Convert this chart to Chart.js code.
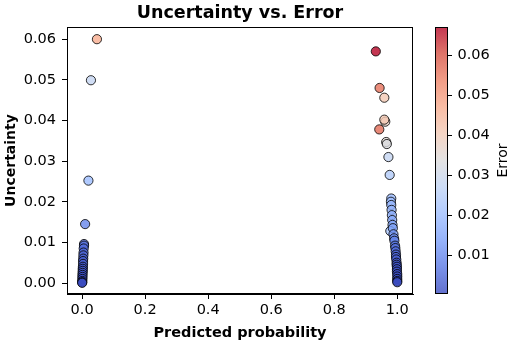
<!DOCTYPE html>
<html>
<head>
<meta charset="utf-8">
<script src="https://cdn.jsdelivr.net/npm/chart.js@4/dist/chart.umd.min.js"></script>
<style>
  html, body { margin: 0; padding: 0; background: #fff; }
  #wrap { width: 511px; height: 346px; }
</style>
</head>
<body>
<div id="wrap"><canvas id="chart"></canvas></div>
<script>
// values
const probs = [
    0.047, 0.028, 0.020, 0.0095, 0.006, 0.006, 0.005, 0.0045, 0.004, 0.0035, 0.003,
    0.003, 0.0025, 0.002, 0.002, 0.0015, 0.0012, 0.001, 0.0008, 0.0005, 0.0003, 0.0001,
    0.932, 0.944, 0.959, 0.962, 0.959, 0.943, 0.965, 0.967, 0.972, 0.976, 0.981, 0.980,
    0.981, 0.982, 0.983, 0.984, 0.985, 0.978, 0.986, 0.988, 0.990, 0.991, 0.993, 0.994,
    0.995, 0.996, 0.996, 0.997, 0.998, 0.998, 0.999, 0.999, 0.999, 1.000, 1.000, 1.000,
    1.000, 1.000
];
const uncertainty = [
    0.0600, 0.0499, 0.0252, 0.0145, 0.0096, 0.0092, 0.0085, 0.0075, 0.0068, 0.0060, 0.0054,
    0.0047, 0.0040, 0.0035, 0.0030, 0.0025, 0.0020, 0.0015, 0.0010, 0.0005, 0.0002, 0.00005,
    0.0570, 0.0480, 0.0456, 0.0397, 0.0402, 0.0378, 0.0347, 0.0342, 0.0310, 0.0266, 0.0208, 0.0200,
    0.0192, 0.0180, 0.0167, 0.0155, 0.0143, 0.0128, 0.0135, 0.0120, 0.0110, 0.0104, 0.0092, 0.0086,
    0.0078, 0.0070, 0.0064, 0.0058, 0.0050, 0.0045, 0.0040, 0.0034, 0.0028, 0.0022, 0.0016, 0.0010,
    0.0005, 0.0002
];
const errors = [
    0.047, 0.028, 0.020, 0.0095, 0.006, 0.006, 0.005, 0.0045, 0.004, 0.0035, 0.003,
    0.003, 0.0025, 0.002, 0.002, 0.0015, 0.0012, 0.001, 0.0008, 0.0005, 0.0003, 0.0001,
    0.068, 0.056, 0.041, 0.038, 0.041, 0.057, 0.035, 0.033, 0.028, 0.024, 0.019, 0.020,
    0.019, 0.018, 0.017, 0.016, 0.015, 0.022, 0.014, 0.012, 0.010, 0.009, 0.007, 0.006,
    0.005, 0.004, 0.004, 0.003, 0.002, 0.002, 0.001, 0.001, 0.001, 0.0005, 0.0003, 0.0002,
    0.0001, 0.0001
];
const xTicks = [0.0, 0.2, 0.4, 0.6, 0.8, 1.0];
const yTicks = [0.00, 0.01, 0.02, 0.03, 0.04, 0.05, 0.06];
const cbTicks = [0.01, 0.02, 0.03, 0.04, 0.05, 0.06];
const cbMin = 0.0003, cbMax = 0.067;

// coolwarm anchors
const coolwarm = [
    [0.0, 59, 76, 192], [0.1, 89, 119, 227], [0.2, 123, 159, 249], [0.3, 158, 190, 255],
    [0.4, 192, 212, 245], [0.5, 221, 220, 220], [0.6, 242, 203, 183], [0.7, 247, 172, 142],
    [0.8, 238, 132, 104], [0.9, 214, 82, 68], [1.0, 180, 4, 38]
];
const ALPHA = 0.8;

function cmap(t) {
    t = Math.max(0, Math.min(1, t));
    for (let i = 1; i < coolwarm.length; i++) {
        if (t <= coolwarm[i][0]) {
            const a = coolwarm[i - 1], b = coolwarm[i];
            const f = (t - a[0]) / (b[0] - a[0]);
            const c = [1, 2, 3].map(k => Math.round(a[k] + (b[k] - a[k]) * f));
            return `rgba(${c[0]},${c[1]},${c[2]},${ALPHA})`;
        }
    }
    return `rgba(180,4,38,${ALPHA})`;
}

const points = probs.map((p, i) => ({ x: p, y: uncertainty[i] }));
const pointColors = errors.map(e => cmap((e - cbMin) / (cbMax - cbMin)));

const FONT = 'DejaVu Sans';
const TICK = 14.5;

function noPad(s) {
    s.paddingTop = 0; s.paddingBottom = 0; s.paddingLeft = 0; s.paddingRight = 0;
}

const frameAndColorbar = {
    id: 'frameAndColorbar',
    afterDraw(chart) {
        const ctx = chart.ctx;
        const a = chart.chartArea;
        const cb = chart.scales.cb;
        ctx.save();
        // plot frame
        ctx.strokeStyle = '#000';
        ctx.lineWidth = 1;
        ctx.strokeRect(a.left + 0.5, a.top + 0.5, a.right - a.left - 1, a.bottom - a.top - 1);

        // title
        ctx.fillStyle = '#000';
        ctx.font = `bold 17.5px "${FONT}"`;
        ctx.textAlign = 'center';
        ctx.textBaseline = 'middle';
        ctx.fillText('Uncertainty vs. Error', (a.left + a.right) / 2, 13);

        // colorbar
        const x0 = a.right + 22, w = 12;
        const g = ctx.createLinearGradient(0, a.bottom, 0, a.top);
        coolwarm.forEach(s => g.addColorStop(s[0], `rgba(${s[1]},${s[2]},${s[3]},${ALPHA})`));
        ctx.fillStyle = g;
        ctx.fillRect(x0, a.top, w, a.bottom - a.top);
        ctx.strokeRect(x0 + 0.5, a.top + 0.5, w, a.bottom - a.top - 1);
        cbTicks.forEach(v => {
            const y = Math.round(cb.getPixelForValue(v)) + 0.5;
            ctx.beginPath();
            ctx.moveTo(x0 + w, y);
            ctx.lineTo(x0 + w + 5, y);
            ctx.stroke();
        });
        ctx.translate(503, (a.top + a.bottom) / 2);
        ctx.rotate(-Math.PI / 2);
        ctx.fillStyle = '#000';
        ctx.font = `14px "${FONT}"`;
        ctx.fillText('Error', 0, 0);
        ctx.restore();
    }
};

new Chart(document.getElementById('chart').getContext('2d'), {
    type: 'scatter',
    data: {
        datasets: [{
            data: points,
            backgroundColor: pointColors,
            borderColor: 'rgba(0,0,0,0.8)',
            borderWidth: 1,
            pointRadius: 4.6,
            pointHoverRadius: 4.6
        }]
    },
    options: {
        responsive: true,
        maintainAspectRatio: false,
        animation: false,
        layout: { padding: { top: 27 } },
        plugins: {
            legend: { display: false },
            tooltip: { enabled: false },
            title: { display: false }
        },
        scales: {
            x: {
                type: 'linear',
                min: -0.048,
                max: 1.05,
                afterBuildTicks: s => { s.ticks = xTicks.map(v => ({ value: v })); },
                afterFit: s => { s.height = 52; noPad(s); },
                grid: { display: true, drawOnChartArea: false, drawTicks: true, tickLength: 5, color: '#000' },
                border: { display: true, color: '#000' },
                ticks: {
                    color: '#000',
                    padding: 3,
                    maxRotation: 0,
                    font: { family: FONT, size: TICK },
                    callback: v => v.toFixed(1)
                },
                title: {
                    display: true,
                    text: 'Predicted probability',
                    color: '#000',
                    font: { family: FONT, size: 14.5, weight: 'bold' },
                    padding: { top: 0, bottom: 4 }
                }
            },
            y: {
                type: 'linear',
                min: -0.0027,
                max: 0.063,
                afterBuildTicks: s => { s.ticks = yTicks.map(v => ({ value: v })); },
                afterFit: s => { s.width = 67; noPad(s); },
                grid: { display: true, drawOnChartArea: false, drawTicks: true, tickLength: 5, color: '#000' },
                border: { display: true, color: '#000' },
                ticks: {
                    color: '#000',
                    padding: 6,
                    font: { family: FONT, size: TICK },
                    callback: v => v.toFixed(2)
                },
                title: {
                    display: true,
                    text: 'Uncertainty',
                    color: '#000',
                    font: { family: FONT, size: 14, weight: 'bold' },
                    padding: { top: 3, bottom: 0 }
                }
            },
            cb: {
                type: 'linear',
                position: 'right',
                min: cbMin,
                max: cbMax,
                afterBuildTicks: s => { s.ticks = cbTicks.map(v => ({ value: v })); },
                afterFit: s => { s.width = 98; noPad(s); },
                grid: { display: false, drawTicks: false },
                border: { display: false },
                ticks: {
                    color: '#000',
                    padding: 44.5,
                    font: { family: FONT, size: TICK },
                    callback: v => v.toFixed(2)
                }
            }
        }
    },
    plugins: [frameAndColorbar]
});
</script>
</body>
</html>
